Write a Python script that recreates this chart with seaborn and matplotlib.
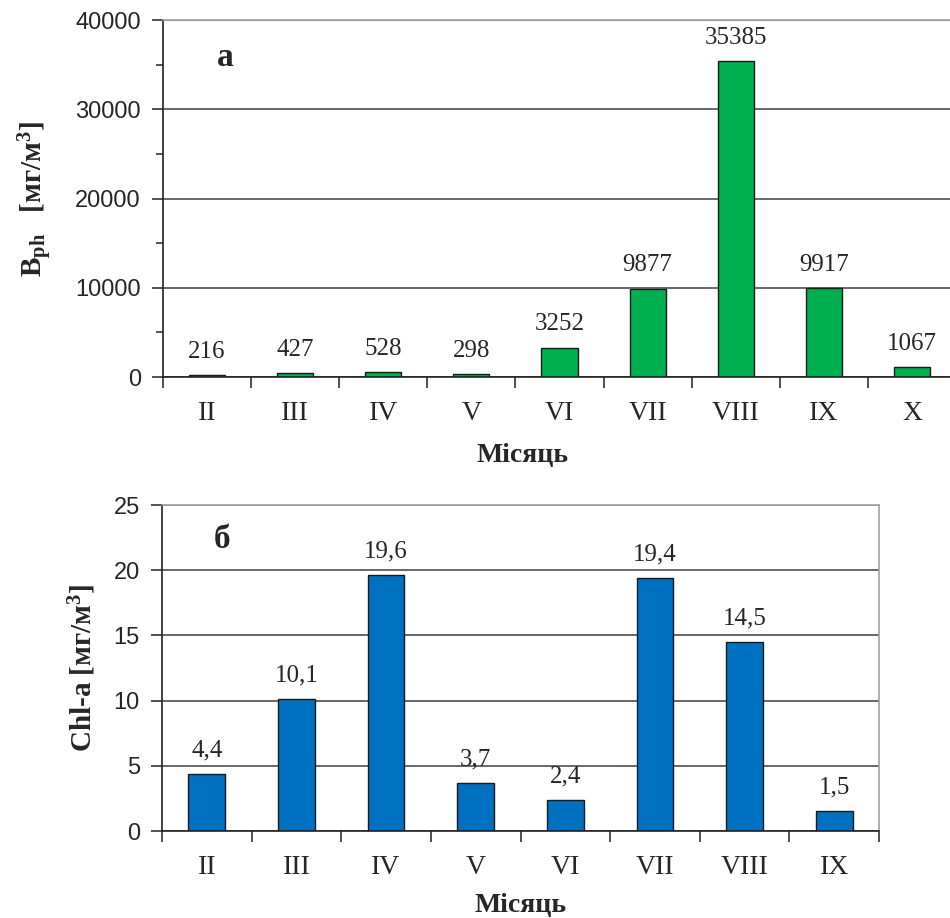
import matplotlib
matplotlib.use("Agg")
import matplotlib.pyplot as plt
from matplotlib.ticker import MultipleLocator, FixedLocator
import seaborn as sns
import pandas as pd

months_a = ["II", "III", "IV", "V", "VI", "VII", "VIII", "IX", "X"]
bph_values = [216, 427, 528, 298, 3252, 9877, 35385, 9917, 1067]

months_b = ["II", "III", "IV", "V", "VI", "VII", "VIII", "IX"]
chl_values = [4.4, 10.1, 19.6, 3.7, 2.4, 19.4, 14.5, 1.5]

sns.set_style("white")
plt.rcParams["font.family"] = ["Liberation Serif", "DejaVu Serif"]
plt.rcParams["mathtext.fontset"] = "custom"
plt.rcParams["mathtext.rm"] = "Liberation Serif"
plt.rcParams["mathtext.bf"] = "Liberation Serif:bold"
plt.rcParams["mathtext.it"] = "Liberation Serif:italic"

fig = plt.figure(figsize=(9.5, 9.18), dpi=100)
W, H = 950, 918

def ax_at(l, t, r, b):
    return fig.add_axes([l / W, 1 - b / H, (r - l) / W, (b - t) / H])

ax1 = ax_at(163, 20, 956, 377)
ax2 = ax_at(162, 505, 879, 831)

GREEN = "#00B050"
BLUE = "#0070C0"
GRID = "#3f3f3f"

def style(ax, n, ymax, ystep, minor=None):
    ax.set_xlim(-0.5, n - 0.5)
    ax.set_ylim(0, ymax)
    ax.yaxis.set_major_locator(MultipleLocator(ystep))
    if minor:
        ax.yaxis.set_minor_locator(MultipleLocator(minor))
    ax.set_axisbelow(True)
    ax.grid(axis="y", color=GRID, linewidth=1.1)
    ax.grid(axis="x", visible=False)
    for s in ["left", "bottom"]:
        ax.spines[s].set_color("#222222")
        ax.spines[s].set_linewidth(1.2)
    for s in ["top", "right"]:
        ax.spines[s].set_color("#a0a0a0")
        ax.spines[s].set_linewidth(1.2)
    ax.tick_params(axis="y", which="major", length=8, width=1.1, color="#222222",
                   direction="out", left=True, pad=8, labelsize=17)
    ax.tick_params(axis="y", which="minor", length=5, width=1.1, color="#222222",
                   direction="out", left=True)
    for lab in ax.get_yticklabels():
        lab.set_fontfamily(["Liberation Sans", "DejaVu Sans"])
    ax.xaxis.set_minor_locator(FixedLocator([i - 0.5 for i in range(n + 1)]))
    ax.tick_params(axis="x", which="minor", length=8, width=1.1, color="#222222",
                   direction="out", bottom=True)
    ax.tick_params(axis="x", which="major", length=0, pad=17, labelsize=20)

# Panel a
df_a = pd.DataFrame({"month": months_a, "val": bph_values})
sns.barplot(data=df_a, x="month", y="val", color=GREEN, saturation=1,
            width=0.41, edgecolor="#1a1a1a", linewidth=1.0, ax=ax1)
style(ax1, len(months_a), 40000, 10000, minor=5000)
for i, v in enumerate(bph_values):
    ax1.annotate(f"{v}", (i, v), xytext=(0, 9), textcoords="offset points",
                 ha="center", va="bottom", fontsize=18)
ax1.set_xlabel("Місяць", fontsize=20, fontweight="bold")
ax1.xaxis.set_label_coords(0.453, -0.185)
ax1.set_ylabel(r"$\mathbf{B}_{\mathbf{ph}}$   [мг/м$^{\mathbf{3}}$]", fontsize=21,
               fontweight="bold")
ax1.yaxis.set_label_coords(-0.136, 0.5)
ax1.text(0.079, 0.895, "а", transform=ax1.transAxes, fontsize=24,
         fontweight="bold", ha="center", va="center")

# Panel b
df_b = pd.DataFrame({"month": months_b, "val": chl_values})
sns.barplot(data=df_b, x="month", y="val", color=BLUE, saturation=1,
            width=0.41, edgecolor="#1a1a1a", linewidth=1.0, ax=ax2)
style(ax2, len(months_b), 25, 5)
for i, v in enumerate(chl_values):
    ax2.annotate(f"{v:.1f}".replace(".", ","), (i, v), xytext=(0, 9),
                 textcoords="offset points", ha="center", va="bottom", fontsize=18)
ax2.set_xlabel("Місяць", fontsize=20, fontweight="bold")
ax2.xaxis.set_label_coords(0.5, -0.19)
ax2.set_ylabel(r"Chl-a [мг/м$^{\mathbf{3}}$]", fontsize=21, fontweight="bold")
ax2.yaxis.set_label_coords(-0.089, 0.5)
ax2.text(0.084, 0.893, "б", transform=ax2.transAxes, fontsize=24,
         fontweight="bold", ha="center", va="center")

fig.savefig("out.png", dpi=100)
